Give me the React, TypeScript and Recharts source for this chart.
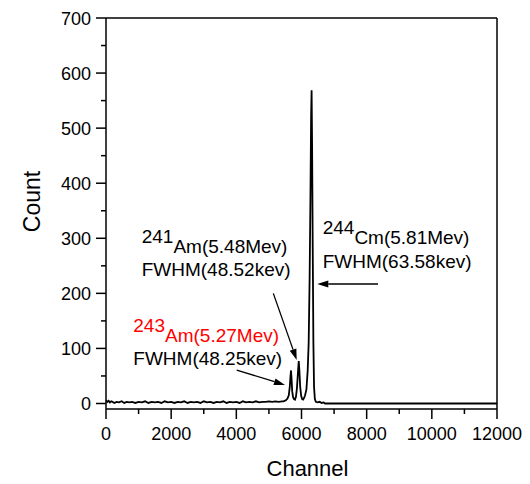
import React from "react";
import { LineChart, Line, XAxis, YAxis } from "recharts";

const channels = [
  0, 40, 80, 120, 160, 200, 260, 320, 400, 480, 560, 640, 720, 800, 900, 1000,
  1100, 1200, 1300, 1400, 1500, 1600, 1700, 1800, 1900, 2000, 2100, 2200, 2300,
  2400, 2500, 2600, 2700, 2800, 2900, 3000, 3100, 3200, 3300, 3400, 3500, 3600,
  3700, 3800, 3900, 4000, 4100, 4200, 4300, 4400, 4500, 4600, 4700, 4800, 4900,
  5000, 5100, 5200, 5300, 5400, 5450, 5520, 5570, 5610, 5640, 5660, 5678, 5695,
  5715, 5740, 5770, 5800, 5830, 5860, 5890, 5915, 5935, 5960, 5990, 6020, 6050,
  6080, 6110, 6150, 6190, 6220, 6250, 6275, 6295, 6310, 6325, 6345, 6365, 6385,
  6410, 6440, 6500, 6560, 6620, 6680, 6720, 8000, 10000, 12000,
];
const counts = [
  6, 3, 5, 2, 4, 3, 1, 3, 2, 4, 1, 3, 2, 3, 1, 3,
  2, 4, 1, 3, 2, 3, 1, 4, 2, 3, 1, 3, 2,
  4, 1, 3, 2, 3, 1, 4, 2, 3, 1, 3, 2, 4,
  1, 3, 2, 3, 1, 4, 2, 3, 2, 4, 2, 3, 3,
  4, 3, 4, 3, 4, 4, 6, 9, 15, 30, 48, 60, 45,
  22, 12, 8, 7, 12, 28, 55, 77, 60, 30, 14, 8, 7,
  10, 15, 25, 60, 110, 230, 380, 520, 569, 470, 280, 110, 30,
  8, 3, 2, 3, 1, 2, 0, 0, 0, 0,
];
const xTicks = [0, 1000, 2000, 3000, 4000, 5000, 6000, 7000, 8000, 9000, 10000, 11000, 12000];
const yTicks = [0, 50, 100, 150, 200, 250, 300, 350, 400, 450, 500, 550, 600, 650, 700];

const data = channels.map((ch, i) => ({ ch, count: counts[i] }));

const W = 522;
const H = 476;
const M = { top: 8, right: 30, bottom: 35, left: 38 };
const PL = 98, PT = 10, PR = 489, PB = 401;
const X0 = 0, X1 = 12000, Y0 = -10, Y1 = 700;
const sx = (ch: number) => PL + ((ch - X0) / (X1 - X0)) * (PR - PL);
const sy = (v: number) => PT + ((Y1 - v) / (Y1 - Y0)) * (PB - PT);

const FONT = "'Liberation Sans', Arial, sans-serif";

const XTick = (props: any) => {
  const { x, y, payload } = props;
  const v = payload.value;
  const major = v % 2000 === 0;
  return (
    <g>
      <line x1={x} x2={x} y1={y} y2={y + (major ? 10 : 5)} stroke="#000" strokeWidth={1.5} />
      {major && (
        <text x={x} y={y + 31} textAnchor="middle" fontSize={18} fontFamily={FONT} fill="#000">
          {v}
        </text>
      )}
    </g>
  );
};

const YTick = (props: any) => {
  const { x, y, payload } = props;
  const v = payload.value;
  const major = v % 100 === 0;
  return (
    <g>
      <line x1={x} x2={x - (major ? 10 : 5)} y1={y} y2={y} stroke="#000" strokeWidth={1.5} />
      {major && (
        <text x={x - 15} y={y + 6.5} textAnchor="end" fontSize={18} fontFamily={FONT} fill="#000">
          {v}
        </text>
      )}
    </g>
  );
};

const labels = [
  { sup: "241", text: "Am(5.48Mev)", ch: 1096, v: 273, color: "#000" },
  { sup: "", text: "FWHM(48.52kev)", ch: 1096, v: 231.5, color: "#000" },
  { sup: "243", text: "Am(5.27Mev)", ch: 838, v: 112, color: "#ff0000" },
  { sup: "", text: "FWHM(48.25kev)", ch: 838, v: 70, color: "#000" },
  { sup: "244", text: "Cm(5.81Mev)", ch: 6650, v: 289.6, color: "#000" },
  { sup: "", text: "FWHM(63.58kev)", ch: 6650, v: 246.6, color: "#000" },
];

const arrows = [
  { fromCh: 5135, fromV: 200, toCh: 5853, toV: 79 },
  { fromCh: 4011, fromV: 60.8, toCh: 5493, toV: 33.6 },
  { fromCh: 8348, fromV: 217, toCh: 6485, toV: 217 },
];

const Arrow = ({ x1, y1, x2, y2 }: { x1: number; y1: number; x2: number; y2: number }) => {
  const dx = x2 - x1, dy = y2 - y1;
  const len = Math.hypot(dx, dy);
  const ux = dx / len, uy = dy / len;
  const hl = 11, hw = 3.5;
  const bx = x2 - ux * hl, by = y2 - uy * hl;
  const p1 = `${x2},${y2}`;
  const p2 = `${bx - uy * hw},${by + ux * hw}`;
  const p3 = `${bx + uy * hw},${by - ux * hw}`;
  return (
    <g>
      <line x1={x1} y1={y1} x2={bx} y2={by} stroke="#000" strokeWidth={1.3} />
      <polygon points={`${p1} ${p2} ${p3}`} fill="#000" />
    </g>
  );
};

export default function App() {
  return (
    <div style={{ position: "relative", width: W, height: H, fontFamily: FONT }}>
      <LineChart width={W} height={H} data={data} margin={M}>
        <XAxis
          xAxisId="b"
          dataKey="ch"
          type="number"
          domain={[X0, X1]}
          ticks={xTicks}
          interval={0}
          height={40}
          axisLine={{ stroke: "#000", strokeWidth: 1.5 }}
          tickLine={false}
          tickSize={0}
          tickMargin={0}
          tick={<XTick />}
        />
        <XAxis
          xAxisId="t"
          orientation="top"
          dataKey="ch"
          type="number"
          domain={[X0, X1]}
          ticks={xTicks}
          interval={0}
          height={2}
          axisLine={{ stroke: "#000", strokeWidth: 1.5 }}
          tickLine={{ stroke: "#000", strokeWidth: 1.5 }}
          tickSize={2}
          tick={false}
        />
        <YAxis
          yAxisId="l"
          type="number"
          domain={[Y0, Y1]}
          ticks={yTicks}
          interval={0}
          width={60}
          axisLine={{ stroke: "#000", strokeWidth: 1.5 }}
          tickLine={false}
          tickSize={0}
          tickMargin={0}
          tick={<YTick />}
        />
        <YAxis
          yAxisId="r"
          orientation="right"
          type="number"
          domain={[Y0, Y1]}
          ticks={yTicks}
          interval={0}
          width={3}
          axisLine={{ stroke: "#000", strokeWidth: 1.5 }}
          tickLine={{ stroke: "#000", strokeWidth: 1.5 }}
          tickSize={2}
          tick={false}
        />
        <Line
          xAxisId="b"
          yAxisId="l"
          type="linear"
          dataKey="count"
          stroke="#000"
          strokeWidth={1.8}
          dot={false}
          isAnimationActive={false}
        />
      </LineChart>
      <svg
        width={W}
        height={H}
        style={{ position: "absolute", left: 0, top: 0, pointerEvents: "none" }}
      >
        <text
          x={0}
          y={0}
          transform={`translate(24, ${(PT + PB) / 2 - 12}) rotate(-90)`}
          textAnchor="middle"
          dominantBaseline="central"
          fontSize={23}
          fontFamily={FONT}
          fill="#000"
        >
          Count
        </text>
        <text x={(PL + PR) / 2 + 6} y={468} textAnchor="middle" fontSize={22} fontFamily={FONT} fill="#000">
          Channel
        </text>
        {labels.map((l, i) => (
          <text key={i} x={sx(l.ch)} y={sy(l.v)} fontSize={19} fontFamily={FONT} fill={l.color}>
            {l.sup ? (
              <>
                <tspan dy={-10}>{l.sup}</tspan>
                <tspan dy={10}>{l.text}</tspan>
              </>
            ) : (
              l.text
            )}
          </text>
        ))}
        {arrows.map((a, i) => (
          <Arrow key={i} x1={sx(a.fromCh)} y1={sy(a.fromV)} x2={sx(a.toCh)} y2={sy(a.toV)} />
        ))}
      </svg>
    </div>
  );
}
